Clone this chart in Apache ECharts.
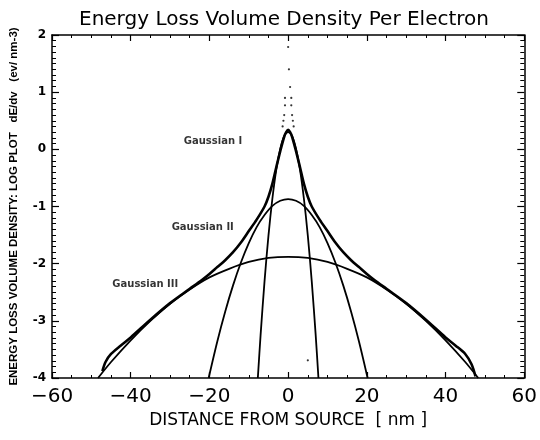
<!DOCTYPE html>
<html>
<head>
<meta charset="utf-8">
<script src="https://cdn.jsdelivr.net/npm/echarts@6/dist/echarts.min.js"></script>
<style>
  html, body { margin: 0; padding: 0; background: #fff; }
  #chart { width: 540px; height: 440px; }
</style>
</head>
<body>
<div id="chart"></div>
<script>
// Log10 of energy-loss volume density (eV/nm^3) vs distance from source (nm)

// Axis ticks
const xTickValues = [-60, -40, -20, 0, 20, 40, 60];
const yTickValues = [-4, -3, -2, -1, 0, 1, 2];

// Gaussian I (narrow core)
const g1X = [-7.7, -7, -6, -5, -4, -3, -2, -1, 0, 1, 2, 3, 4, 5, 6, 7, 7.7];
const g1Y = [-4.0, -3.25, -2.31, -1.51, -0.86, -0.35, 0.01, 0.23, 0.30, 0.23, 0.01, -0.35, -0.86, -1.51, -2.31, -3.25, -4.0];

// Gaussian II (middle)
const g2X = [-20.2, -18, -16, -14, -12, -10, -8, -6, -4, -2, 0, 2, 4, 6, 8, 10, 12, 14, 16, 18, 20.2];
const g2Y = [-4.0, -3.36, -2.84, -2.38, -1.98, -1.64, -1.36, -1.15, -0.99, -0.90, -0.87, -0.90, -0.99, -1.15, -1.36, -1.64, -1.98, -2.38, -2.84, -3.36, -4.0];

// Gaussian III (broad halo)
const g3X = [-48.3, -45, -40, -35, -30, -25, -20, -15, -10, -5, 0, 5, 10, 15, 20, 25, 30, 35, 40, 45, 48.3];
const g3Y = [-4.0, -3.72, -3.34, -3.00, -2.70, -2.45, -2.24, -2.09, -1.97, -1.90, -1.88, -1.90, -1.97, -2.09, -2.24, -2.45, -2.70, -3.00, -3.34, -3.72, -4.0];

// Total distribution
const totX = [-47.2, -46.4, -45, -42.5, -40, -35, -30, -25, -22, -20, -18, -16, -14, -12, -10, -8, -6, -5, -4, -3, -2, -1, -0.5, 0,
              0.5, 1, 2, 3, 4, 5, 6, 8, 10, 12, 14, 16, 18, 20, 22, 25, 30, 35, 40, 42.5, 45, 46.6, 47.6];
const totY = [-3.88, -3.72, -3.58, -3.43, -3.29, -2.98, -2.69, -2.44, -2.29, -2.18, -2.06, -1.94, -1.80, -1.63, -1.43, -1.23, -1.00, -0.83, -0.60, -0.31, -0.03, 0.22, 0.30, 0.34,
              0.30, 0.22, -0.03, -0.31, -0.60, -0.83, -1.00, -1.23, -1.43, -1.63, -1.80, -1.94, -2.06, -2.18, -2.29, -2.44, -2.69, -2.98, -3.29, -3.43, -3.58, -3.76, -3.97];

// Sparse points above the peak
const dotX = [0, 0.2, 0.5, -0.8, 0.8, -0.8, 0.8, -1.0, 1.0, -1.2, 1.2, -1.4, 1.4, 5];
const dotY = [1.79, 1.40, 1.09, 0.90, 0.90, 0.77, 0.77, 0.60, 0.60, 0.50, 0.50, 0.40, 0.40, -3.69];

// Curve annotations
const labelNames = ['Gaussian I', 'Gaussian II', 'Gaussian III'];
const labelX = [-19.1, -21.7, -36.3];
const labelY = [0.14, -1.36, -2.37];

const zip = (xs, ys) => xs.map((x, i) => [x, ys[i]]);
const minus = v => (v < 0 ? '\u2212' + Math.abs(v) : String(v));

const axisLineStyle = { color: '#000', width: 1.5 };

function xAxisCfg(pos, showLabels) {
  return {
    type: 'value', position: pos, min: xTickValues[0], max: xTickValues[xTickValues.length - 1], interval: 20,
    axisLine: { show: true, onZero: false, lineStyle: axisLineStyle },
    axisTick: { show: true, inside: true, length: 6, lineStyle: { color: '#000', width: 1.2 } },
    minorTick: { show: true, splitNumber: 4, length: 3, lineStyle: { color: '#000', width: 1 } },
    splitLine: { show: false },
    axisLabel: { show: showLabels, color: '#000', fontSize: 20, fontFamily: 'DejaVu Sans', margin: 9, formatter: minus },
    name: showLabels ? 'DISTANCE FROM SOURCE  [ nm ]' : '',
    nameLocation: 'middle', nameGap: 34,
    nameTextStyle: { color: '#000', fontSize: 17, fontFamily: 'DejaVu Sans' }
  };
}

function yAxisCfg(pos, showLabels) {
  return {
    type: 'value', position: pos, min: yTickValues[0], max: yTickValues[yTickValues.length - 1], interval: 1,
    axisLine: { show: true, onZero: false, lineStyle: axisLineStyle },
    axisTick: { show: true, inside: true, length: 7, lineStyle: { color: '#000', width: 1.2 } },
    minorTick: { show: true, splitNumber: 10, length: 4, lineStyle: { color: '#000', width: 1 } },
    splitLine: { show: false },
    axisLabel: { show: showLabels, color: '#000', fontSize: 12, fontWeight: 'bold', fontFamily: 'DejaVu Sans', margin: 6 },
    name: showLabels ? 'ENERGY LOSS VOLUME DENSITY: LOG PLOT   dE/dv   (ev/ nm-3)' : '',
    nameLocation: 'middle', nameGap: 32, nameRotate: 90,
    nameTextStyle: { color: '#000', fontSize: 11.5, fontWeight: 'bold', fontFamily: 'Liberation Sans' }
  };
}

const curveStyle = w => ({ color: '#000', width: w });

const chart = echarts.init(document.getElementById('chart'), null, { renderer: 'canvas' });
chart.setOption({
  animation: false,
  backgroundColor: '#fff',
  title: {
    text: 'Energy Loss Volume Density Per Electron',
    left: 279, top: 5, textAlign: 'center',
    textStyle: { color: '#000', fontSize: 20, fontWeight: 'normal', fontFamily: 'DejaVu Sans' }
  },
  grid: { left: 52, right: 12, top: 35, bottom: 62 },
  xAxis: [xAxisCfg('bottom', true), xAxisCfg('top', false)],
  yAxis: [yAxisCfg('left', true), yAxisCfg('right', false)],
  series: [
    { type: 'line', data: zip(g1X, g1Y), smooth: 0.3, symbol: 'none', lineStyle: curveStyle(1.8) },
    { type: 'line', data: zip(g2X, g2Y), smooth: 0.3, symbol: 'none', lineStyle: curveStyle(1.8) },
    { type: 'line', data: zip(g3X, g3Y), smooth: 0.3, symbol: 'none', lineStyle: curveStyle(1.8) },
    { type: 'line', data: zip(totX, totY), smooth: 0.3, symbol: 'none', lineStyle: curveStyle(2.6) },
    { type: 'scatter', data: zip(dotX, dotY), symbolSize: 2.2, itemStyle: { color: '#000' } },
    {
      type: 'scatter', symbolSize: 1, itemStyle: { color: 'rgba(0,0,0,0)' },
      data: labelNames.map((n, i) => ({ name: n, value: [labelX[i], labelY[i]] })),
      label: {
        show: true, position: 'inside', formatter: p => p.name,
        color: '#000', fontSize: 10, fontWeight: 'bold', fontFamily: 'DejaVu Sans'
      }
    }
  ]
});
</script>
</body>
</html>
